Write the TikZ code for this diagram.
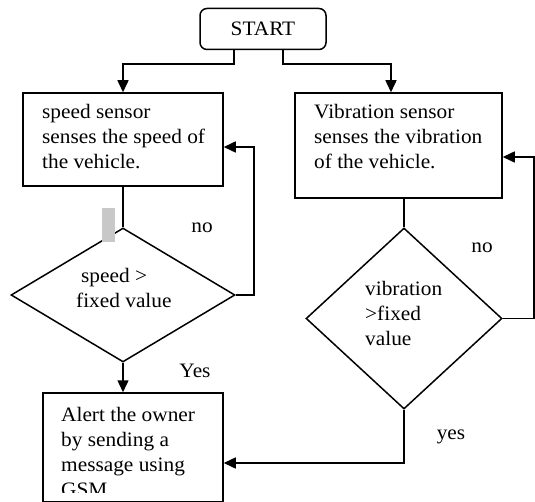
\documentclass[tikz,border=0pt]{standalone}
\usepackage{fontspec}
\setmainfont{Liberation Serif}[FakeStretch=1.04]
\usetikzlibrary{arrows.meta,shapes.geometric}
\definecolor{marker}{RGB}{200,200,200}
\tikzset{
  flow/.style={line width=1.5pt},
  arr/.style={flow,-{Triangle[length=12pt,width=11pt]}},
  boxshape/.style={draw,flow,rectangle,inner sep=0pt},
  dia/.style={draw,flow,diamond,inner sep=0pt,aspect=1},
  txt/.style={inner sep=0pt,align=left,anchor=west,font=\fontsize{20.5}{25}\selectfont},
  lbl/.style={inner sep=0pt,font=\fontsize{20.5}{25}\selectfont}
}
\begin{document}
\begin{tikzpicture}[x=1pt,y=-1pt]
\useasboundingbox (0,0) rectangle (535,502);
\clip (0,0) rectangle (535,502);
% start
\node[draw,flow,rounded corners=7pt,minimum width=126pt,minimum height=41pt,inner sep=0pt,font=\fontsize{20.5}{25}\selectfont] (start) at (263,29) {START};
% boxes
\node[boxshape,minimum width=200pt,minimum height=93pt] (sbox) at (123,139.5) {};
\node[boxshape,minimum width=207pt,minimum height=105pt] (vbox) at (398.5,145.5) {};
\node[boxshape,minimum width=180pt,minimum height=109pt] (abox) at (133,447.5) {};
% diamonds
\node[dia,minimum width=224pt,minimum height=134pt] (sdia) at (123,295) {};
\node[dia,minimum width=196pt,minimum height=181pt] (vdia) at (404,318.5) {};
% marker
\fill[marker] (102,208) rectangle (115,242);
% texts
\node[txt] (stext) at (42,136.5) {speed sensor\\senses the speed of\\the vehicle.};
\node[txt] (vtext) at (314,136.5) {Vibration sensor\\senses the vibration\\of the vehicle.};
\node[txt] (sdtext) at (76,288) {\hspace*{5pt}speed >\\fixed value};
\node[txt] (vdtext) at (365,313.5) {vibration\\>fixed\\value};
\begin{scope}
\clip (0,0) rectangle (535,492);
\node[txt] (atext) at (61,452) {Alert the owner\\by sending a\\message using\\GSM};
\end{scope}
% labels
\node[lbl] (no1) at (202,228) {no};
\node[lbl] (no2) at (482,248) {no};
\node[lbl] (yes1) at (195,371) {Yes};
\node[lbl] (yes2) at (451,437) {yes};
% connectors
\draw[arr] ([xshift=-29pt]start.south) -- ++(0,14) -| (sbox.north);
\draw[arr] ([xshift=20pt]start.south) -- ++(0,14) -| ([xshift=-7.5pt]vbox.north);
\draw[flow] (sbox.south) -- (sdia.north);
\draw[flow] (vdia.north |- vbox.south) -- (vdia.north);
\draw[arr] (sdia.east) -- ++(18,0) |- ([yshift=-7.5pt]sbox.east);
\draw[arr] (vdia.east) -- ++(31,0) |- ([yshift=-11.5pt]vbox.east);
\draw[arr] (sdia.south) -- (sdia.south |- abox.north);
\draw[arr] (vdia.south) |- ([yshift=-15.5pt]abox.east);
\end{tikzpicture}
\end{document}
